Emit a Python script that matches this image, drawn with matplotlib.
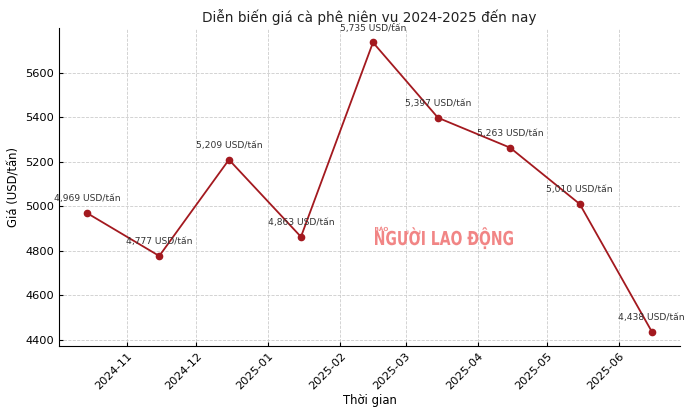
import pandas as pd
import matplotlib
matplotlib.use("Agg")
import matplotlib.pyplot as plt
import matplotlib.dates as mdates
from matplotlib.textpath import TextPath
from matplotlib.patches import PathPatch
from matplotlib.font_manager import FontProperties
from matplotlib.transforms import Affine2D

# Coffee price data, 2024-2025 crop year
dates = ["2024-10-15", "2024-11-15", "2024-12-15", "2025-01-15", "2025-02-15",
         "2025-03-15", "2025-04-15", "2025-05-15", "2025-06-15"]
prices = [4969, 4777, 5209, 4863, 5735, 5397, 5263, 5010, 4438]

df = pd.DataFrame({"date": pd.to_datetime(dates), "price": prices})

plt.rcParams["font.family"] = ["DejaVu Sans"]

W, H = 698, 419
fig = plt.figure(figsize=(W / 100, H / 100), dpi=100)
ax = fig.add_axes([59 / W, 1 - 346 / H, (680 - 59) / W, (346 - 28) / H])

line_color = "#a3191f"
ax.plot(df["date"], df["price"], marker="o", markersize=4.5, linewidth=1.3, color=line_color, zorder=3)

for d, p in zip(df["date"], df["price"]):
    ax.annotate(f"{p:,} USD/tấn", (d, p), textcoords="offset points", xytext=(0, 7),
                ha="center", va="bottom", fontsize=6.6, color="#333333", zorder=4)

ax.set_title("Diễn biến giá cà phê niên vụ 2024-2025 đến nay", fontsize=9.8, color="#222222", pad=4)
ax.set_xlabel("Thời gian", fontsize=8.4, labelpad=2)
ax.set_ylabel("Giá (USD/tấn)", fontsize=8.4, labelpad=3)

ax.xaxis.set_major_locator(mdates.MonthLocator())
ax.xaxis.set_major_formatter(mdates.DateFormatter("%Y-%m"))
plt.setp(ax.get_xticklabels(), rotation=45, ha="right", rotation_mode="anchor")
ax.tick_params(labelsize=8.2, direction="in", length=3)

ax.grid(True, linestyle="--", linewidth=0.6, color="#cccccc")
ax.spines["top"].set_visible(False)
ax.spines["right"].set_visible(False)


# Watermark, stretched to fit a box given in pixels (left, baseline, width, cap height)
def watermark(s, x0, base, width, cap, color="#f07878"):
    fp = FontProperties(family="DejaVu Sans", weight="bold")
    path = TextPath((0, 0), s, size=10, prop=fp)
    cap_h = TextPath((0, 0), "N", size=10, prop=fp).get_extents().height
    ext = path.get_extents()
    tr = Affine2D().translate(-ext.x0, 0).scale(width / ext.width, cap / cap_h).translate(x0, H - base)
    fig.add_artist(PathPatch(path, transform=tr, facecolor=color, edgecolor="none", alpha=0.9, zorder=2))


watermark("BÁO", 375, 231, 13, 4)
watermark("NGƯỜI LAO ĐỘNG", 375, 245, 138, 14)

fig.savefig("out.png", dpi=100)
